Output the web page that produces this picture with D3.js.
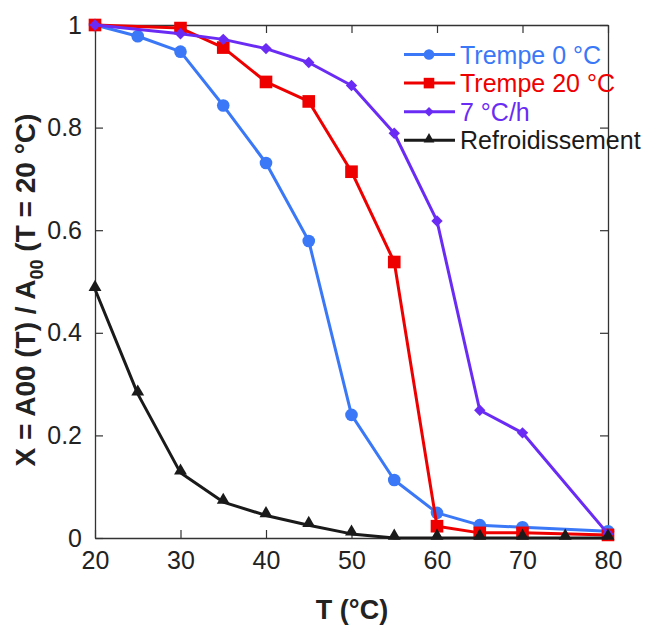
<!DOCTYPE html>
<html><head><meta charset="utf-8">
<script src="https://cdn.jsdelivr.net/npm/d3@7"></script>
<style>body{margin:0;background:#fff}svg{display:block}</style>
</head><body>
<svg id="c" width="647" height="626"></svg>
<script>
const seriesNames = ["Trempe 0 °C", "Trempe 20 °C", "7 °C/h", "Refroidissement"];
const seriesColors = ["#3a78f7", "#ee0000", "#6a2cf5", "#1a1a1a"];
const seriesShapes = ["circle", "square", "diamond", "triangle"];
const tempBlue = [20, 25, 30, 35, 40, 45, 50, 55, 60, 65, 70, 80];
const valBlue = [1.0, 0.978, 0.948, 0.843, 0.731, 0.579, 0.240, 0.113, 0.049, 0.025, 0.021, 0.013];
const tempRed = [20, 30, 35, 40, 45, 50, 55, 60, 65, 70, 80];
const valRed = [1.0, 0.994, 0.956, 0.889, 0.851, 0.714, 0.538, 0.023, 0.010, 0.010, 0.006];
const tempPurple = [20, 30, 35, 40, 45, 50, 55, 60, 65, 70, 80];
const valPurple = [1.0, 0.983, 0.972, 0.954, 0.927, 0.882, 0.789, 0.618, 0.249, 0.205, 0.008];
const tempBlack = [20, 25, 30, 35, 40, 45, 50, 55, 60, 65, 70, 75, 80];
const valBlack = [0.485, 0.281, 0.127, 0.070, 0.044, 0.025, 0.008, 0.0, 0.0, 0.0, 0.0, 0.0, 0.0];
const xTicks = [20, 30, 40, 50, 60, 70, 80];
const yTicks = [0, 0.2, 0.4, 0.6, 0.8, 1];

const series = [
  {t: tempBlue, v: valBlue},
  {t: tempRed, v: valRed},
  {t: tempPurple, v: valPurple},
  {t: tempBlack, v: valBlack}
];

const svg = d3.select("#c");
const L = 95, R = 608, T = 25, B = 538;
const x = d3.scaleLinear().domain([20, 80]).range([L, R]);
const y = d3.scaleLinear().domain([0, 1]).range([B, T]);
const font = "Liberation Sans, Arial, sans-serif";
const axisCol = "#333";

function styleAxis(g, hideText) {
  g.select(".domain").attr("stroke", axisCol).attr("stroke-width", 1.3);
  g.selectAll(".tick line").attr("stroke", axisCol).attr("stroke-width", 1.2);
  g.selectAll(".tick text").attr("font-family", font).attr("font-size", 25).attr("fill", "#222");
  if (hideText) g.selectAll(".tick text").remove();
}

const gx = svg.append("g").attr("transform", `translate(0,${B})`)
  .call(d3.axisBottom(x).tickValues(xTicks).tickFormat(d3.format("d")).tickSizeInner(-8).tickSizeOuter(0).tickPadding(13));
styleAxis(gx);
const gxt = svg.append("g").attr("transform", `translate(0,${T})`)
  .call(d3.axisTop(x).tickValues(xTicks).tickSizeInner(-8).tickSizeOuter(0));
styleAxis(gxt, true);
const gy = svg.append("g").attr("transform", `translate(${L},0)`)
  .call(d3.axisLeft(y).tickValues(yTicks).tickFormat(d => d3.format("~g")(d)).tickSizeInner(-8).tickSizeOuter(0).tickPadding(13));
styleAxis(gy);
const gyr = svg.append("g").attr("transform", `translate(${R},0)`)
  .call(d3.axisRight(y).tickValues(yTicks).tickSizeInner(-8).tickSizeOuter(0));
styleAxis(gyr, true);

const diamondSym = {draw(ctx, size) {
  const r = Math.sqrt(size / 2);
  ctx.moveTo(0, -r); ctx.lineTo(r, 0); ctx.lineTo(0, r); ctx.lineTo(-r, 0); ctx.closePath();
}};
const symMap = {circle: d3.symbolCircle, square: d3.symbolSquare, diamond: diamondSym, triangle: d3.symbolTriangle};
const symSize = {circle: 125, square: 160, diamond: 65, triangle: 72};

const line = d3.line().x(d => x(d[0])).y(d => y(d[1]));
series.forEach((s, i) => {
  const pts = s.t.map((t, j) => [t, s.v[j]]);
  const g = svg.append("g");
  g.append("path").attr("d", line(pts)).attr("fill", "none")
    .attr("stroke", seriesColors[i]).attr("stroke-width", 3).attr("stroke-linejoin", "round");
  const sym = d3.symbol().type(symMap[seriesShapes[i]]).size(symSize[seriesShapes[i]]);
  g.selectAll("path.m").data(pts).join("path").attr("class", "m")
    .attr("transform", d => `translate(${x(d[0])},${y(d[1]) - (seriesShapes[i] === "triangle" ? 2 : 0)})`)
    .attr("d", sym()).attr("fill", seriesColors[i]);
});

// legend
const legY0 = 54.5, legDy = 28.6;
seriesNames.forEach((n, i) => {
  const yy = legY0 + i * legDy;
  svg.append("line").attr("x1", 404).attr("x2", 455).attr("y1", yy).attr("y2", yy)
    .attr("stroke", seriesColors[i]).attr("stroke-width", 3);
  const sym = d3.symbol().type(symMap[seriesShapes[i]]).size(symSize[seriesShapes[i]] * 0.7);
  svg.append("path").attr("transform", `translate(429,${yy - (i === 3 ? 1 : 0)})`).attr("d", sym()).attr("fill", seriesColors[i]);
  svg.append("text").attr("x", 460).attr("y", yy + 9).text(n)
    .attr("font-family", font).attr("font-size", 25).attr("fill", seriesColors[i]);
});

// axis titles
svg.append("text").attr("x", 352).attr("y", 619).attr("text-anchor", "middle")
  .attr("font-family", font).attr("font-size", 27).attr("font-weight", "bold").attr("fill", "#222")
  .text("T (°C)");
const yt = svg.append("text").attr("transform", "translate(35,290) rotate(-90)").attr("text-anchor", "middle")
  .attr("font-family", font).attr("font-size", 28).attr("font-weight", "bold").attr("fill", "#222");
yt.append("tspan").text("X = A00 (T) / A");
yt.append("tspan").attr("dy", 8).attr("font-size", 18).text("00");
yt.append("tspan").attr("dy", -8).text(" (T = 20 °C)");
</script>
</body></html>
